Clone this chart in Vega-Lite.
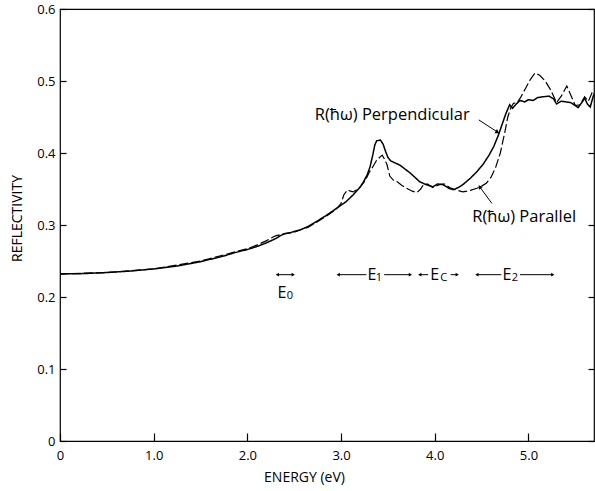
{
  "$schema": "https://vega.github.io/schema/vega-lite/v6.json",
  "width": 534,
  "height": 432,
  "autosize": "none",
  "padding": {"left": 60, "top": 9, "right": 1, "bottom": 50},
  "config": {
    "font": "Open Sans",
    "view": {"stroke": "#000", "strokeWidth": 1.2},
    "axis": {"grid": false, "domain": false, "tickColor": "#000", "labelColor": "#000", "titleColor": "#000", "labelFontWeight": "normal", "titleFontWeight": "normal"}
  },
  "datasets": {
    "curves": [
      {"E": 0, "R": 0.232, "s": "Perpendicular"},
      {"E": 0.25, "R": 0.2325, "s": "Perpendicular"},
      {"E": 0.5, "R": 0.234, "s": "Perpendicular"},
      {"E": 0.75, "R": 0.236, "s": "Perpendicular"},
      {"E": 1.0, "R": 0.239, "s": "Perpendicular"},
      {"E": 1.25, "R": 0.243, "s": "Perpendicular"},
      {"E": 1.5, "R": 0.249, "s": "Perpendicular"},
      {"E": 1.75, "R": 0.257, "s": "Perpendicular"},
      {"E": 1.85, "R": 0.261, "s": "Perpendicular"},
      {"E": 2.0, "R": 0.266, "s": "Perpendicular"},
      {"E": 2.1, "R": 0.27, "s": "Perpendicular"},
      {"E": 2.2, "R": 0.275, "s": "Perpendicular"},
      {"E": 2.3, "R": 0.281, "s": "Perpendicular"},
      {"E": 2.35, "R": 0.285, "s": "Perpendicular"},
      {"E": 2.4, "R": 0.288, "s": "Perpendicular"},
      {"E": 2.45, "R": 0.289, "s": "Perpendicular"},
      {"E": 2.5, "R": 0.291, "s": "Perpendicular"},
      {"E": 2.56, "R": 0.293, "s": "Perpendicular"},
      {"E": 2.65, "R": 0.298, "s": "Perpendicular"},
      {"E": 2.74, "R": 0.305, "s": "Perpendicular"},
      {"E": 2.85, "R": 0.314, "s": "Perpendicular"},
      {"E": 2.95, "R": 0.323, "s": "Perpendicular"},
      {"E": 3.05, "R": 0.332, "s": "Perpendicular"},
      {"E": 3.13, "R": 0.342, "s": "Perpendicular"},
      {"E": 3.2, "R": 0.352, "s": "Perpendicular"},
      {"E": 3.24, "R": 0.36, "s": "Perpendicular"},
      {"E": 3.28, "R": 0.37, "s": "Perpendicular"},
      {"E": 3.31, "R": 0.381, "s": "Perpendicular"},
      {"E": 3.34, "R": 0.398, "s": "Perpendicular"},
      {"E": 3.36, "R": 0.411, "s": "Perpendicular"},
      {"E": 3.38, "R": 0.417, "s": "Perpendicular"},
      {"E": 3.42, "R": 0.418, "s": "Perpendicular"},
      {"E": 3.45, "R": 0.412, "s": "Perpendicular"},
      {"E": 3.47, "R": 0.404, "s": "Perpendicular"},
      {"E": 3.5, "R": 0.394, "s": "Perpendicular"},
      {"E": 3.53, "R": 0.389, "s": "Perpendicular"},
      {"E": 3.58, "R": 0.386, "s": "Perpendicular"},
      {"E": 3.63, "R": 0.383, "s": "Perpendicular"},
      {"E": 3.68, "R": 0.378, "s": "Perpendicular"},
      {"E": 3.74, "R": 0.372, "s": "Perpendicular"},
      {"E": 3.79, "R": 0.366, "s": "Perpendicular"},
      {"E": 3.84, "R": 0.36, "s": "Perpendicular"},
      {"E": 3.91, "R": 0.356, "s": "Perpendicular"},
      {"E": 3.98, "R": 0.353, "s": "Perpendicular"},
      {"E": 4.03, "R": 0.357, "s": "Perpendicular"},
      {"E": 4.09, "R": 0.356, "s": "Perpendicular"},
      {"E": 4.15, "R": 0.351, "s": "Perpendicular"},
      {"E": 4.2, "R": 0.349, "s": "Perpendicular"},
      {"E": 4.25, "R": 0.352, "s": "Perpendicular"},
      {"E": 4.3, "R": 0.356, "s": "Perpendicular"},
      {"E": 4.38, "R": 0.365, "s": "Perpendicular"},
      {"E": 4.45, "R": 0.374, "s": "Perpendicular"},
      {"E": 4.52, "R": 0.385, "s": "Perpendicular"},
      {"E": 4.58, "R": 0.397, "s": "Perpendicular"},
      {"E": 4.63, "R": 0.409, "s": "Perpendicular"},
      {"E": 4.68, "R": 0.425, "s": "Perpendicular"},
      {"E": 4.72, "R": 0.44, "s": "Perpendicular"},
      {"E": 4.76, "R": 0.455, "s": "Perpendicular"},
      {"E": 4.8, "R": 0.467, "s": "Perpendicular"},
      {"E": 4.83, "R": 0.462, "s": "Perpendicular"},
      {"E": 4.87, "R": 0.468, "s": "Perpendicular"},
      {"E": 4.91, "R": 0.473, "s": "Perpendicular"},
      {"E": 4.96, "R": 0.471, "s": "Perpendicular"},
      {"E": 5.0, "R": 0.474, "s": "Perpendicular"},
      {"E": 5.05, "R": 0.473, "s": "Perpendicular"},
      {"E": 5.1, "R": 0.477, "s": "Perpendicular"},
      {"E": 5.15, "R": 0.478, "s": "Perpendicular"},
      {"E": 5.22, "R": 0.479, "s": "Perpendicular"},
      {"E": 5.27, "R": 0.475, "s": "Perpendicular"},
      {"E": 5.3, "R": 0.468, "s": "Perpendicular"},
      {"E": 5.35, "R": 0.472, "s": "Perpendicular"},
      {"E": 5.4, "R": 0.471, "s": "Perpendicular"},
      {"E": 5.45, "R": 0.47, "s": "Perpendicular"},
      {"E": 5.5, "R": 0.466, "s": "Perpendicular"},
      {"E": 5.53, "R": 0.463, "s": "Perpendicular"},
      {"E": 5.57, "R": 0.47, "s": "Perpendicular"},
      {"E": 5.6, "R": 0.476, "s": "Perpendicular"},
      {"E": 5.63, "R": 0.468, "s": "Perpendicular"},
      {"E": 5.66, "R": 0.464, "s": "Perpendicular"},
      {"E": 5.69, "R": 0.478, "s": "Perpendicular"},
      {"E": 5.72, "R": 0.488, "s": "Perpendicular"},
      {"E": 0, "R": 0.232, "s": "Parallel"},
      {"E": 0.5, "R": 0.234, "s": "Parallel"},
      {"E": 1.0, "R": 0.239, "s": "Parallel"},
      {"E": 1.5, "R": 0.25, "s": "Parallel"},
      {"E": 1.85, "R": 0.262, "s": "Parallel"},
      {"E": 2.0, "R": 0.267, "s": "Parallel"},
      {"E": 2.1, "R": 0.272, "s": "Parallel"},
      {"E": 2.2, "R": 0.278, "s": "Parallel"},
      {"E": 2.3, "R": 0.285, "s": "Parallel"},
      {"E": 2.4, "R": 0.288, "s": "Parallel"},
      {"E": 2.5, "R": 0.29, "s": "Parallel"},
      {"E": 2.56, "R": 0.293, "s": "Parallel"},
      {"E": 2.65, "R": 0.297, "s": "Parallel"},
      {"E": 2.74, "R": 0.304, "s": "Parallel"},
      {"E": 2.85, "R": 0.313, "s": "Parallel"},
      {"E": 2.95, "R": 0.322, "s": "Parallel"},
      {"E": 3.0, "R": 0.33, "s": "Parallel"},
      {"E": 3.03, "R": 0.342, "s": "Parallel"},
      {"E": 3.07, "R": 0.349, "s": "Parallel"},
      {"E": 3.1, "R": 0.347, "s": "Parallel"},
      {"E": 3.13, "R": 0.346, "s": "Parallel"},
      {"E": 3.2, "R": 0.352, "s": "Parallel"},
      {"E": 3.26, "R": 0.362, "s": "Parallel"},
      {"E": 3.3, "R": 0.373, "s": "Parallel"},
      {"E": 3.34, "R": 0.381, "s": "Parallel"},
      {"E": 3.38, "R": 0.39, "s": "Parallel"},
      {"E": 3.42, "R": 0.395, "s": "Parallel"},
      {"E": 3.44, "R": 0.397, "s": "Parallel"},
      {"E": 3.47, "R": 0.39, "s": "Parallel"},
      {"E": 3.49, "R": 0.384, "s": "Parallel"},
      {"E": 3.52, "R": 0.368, "s": "Parallel"},
      {"E": 3.56, "R": 0.362, "s": "Parallel"},
      {"E": 3.6, "R": 0.36, "s": "Parallel"},
      {"E": 3.65, "R": 0.355, "s": "Parallel"},
      {"E": 3.7, "R": 0.351, "s": "Parallel"},
      {"E": 3.76, "R": 0.347, "s": "Parallel"},
      {"E": 3.81, "R": 0.345, "s": "Parallel"},
      {"E": 3.85, "R": 0.35, "s": "Parallel"},
      {"E": 3.88, "R": 0.356, "s": "Parallel"},
      {"E": 3.92, "R": 0.357, "s": "Parallel"},
      {"E": 3.98, "R": 0.352, "s": "Parallel"},
      {"E": 4.05, "R": 0.356, "s": "Parallel"},
      {"E": 4.1, "R": 0.357, "s": "Parallel"},
      {"E": 4.16, "R": 0.352, "s": "Parallel"},
      {"E": 4.22, "R": 0.349, "s": "Parallel"},
      {"E": 4.3, "R": 0.346, "s": "Parallel"},
      {"E": 4.38, "R": 0.348, "s": "Parallel"},
      {"E": 4.45, "R": 0.351, "s": "Parallel"},
      {"E": 4.5, "R": 0.354, "s": "Parallel"},
      {"E": 4.55, "R": 0.358, "s": "Parallel"},
      {"E": 4.6, "R": 0.366, "s": "Parallel"},
      {"E": 4.65, "R": 0.38, "s": "Parallel"},
      {"E": 4.7, "R": 0.4, "s": "Parallel"},
      {"E": 4.75, "R": 0.43, "s": "Parallel"},
      {"E": 4.78, "R": 0.45, "s": "Parallel"},
      {"E": 4.81, "R": 0.462, "s": "Parallel"},
      {"E": 4.84, "R": 0.469, "s": "Parallel"},
      {"E": 4.88, "R": 0.47, "s": "Parallel"},
      {"E": 4.92, "R": 0.478, "s": "Parallel"},
      {"E": 4.97, "R": 0.49, "s": "Parallel"},
      {"E": 5.02, "R": 0.502, "s": "Parallel"},
      {"E": 5.07, "R": 0.511, "s": "Parallel"},
      {"E": 5.12, "R": 0.508, "s": "Parallel"},
      {"E": 5.18, "R": 0.5, "s": "Parallel"},
      {"E": 5.24, "R": 0.487, "s": "Parallel"},
      {"E": 5.3, "R": 0.47, "s": "Parallel"},
      {"E": 5.35, "R": 0.479, "s": "Parallel"},
      {"E": 5.41, "R": 0.493, "s": "Parallel"},
      {"E": 5.46, "R": 0.478, "s": "Parallel"},
      {"E": 5.5, "R": 0.466, "s": "Parallel"},
      {"E": 5.55, "R": 0.467, "s": "Parallel"},
      {"E": 5.6, "R": 0.478, "s": "Parallel"},
      {"E": 5.64, "R": 0.472, "s": "Parallel"},
      {"E": 5.68, "R": 0.484, "s": "Parallel"},
      {"E": 5.72, "R": 0.49, "s": "Parallel"}
    ],
    "notes": [
      {"E": 2.72, "R": 0.453, "t": "R(ħω) Perpendicular"},
      {"E": 4.40, "R": 0.311, "t": "R(ħω) Parallel"}
    ],
    "pointers": [
      {"E": 4.47, "R": 0.446, "E2": 4.67, "R2": 0.429},
      {"E": 4.61, "R": 0.33, "E2": 4.48, "R2": 0.353}
    ],
    "spans": [
      {"E": 2.32, "E2": 2.49, "R": 0.231},
      {"E": 2.97, "E2": 3.27, "R": 0.231},
      {"E": 3.46, "E2": 3.74, "R": 0.231},
      {"E": 3.84, "E2": 3.93, "R": 0.231},
      {"E": 4.17, "E2": 4.24, "R": 0.231},
      {"E": 4.45, "E2": 4.71, "R": 0.231},
      {"E": 4.91, "E2": 5.26, "R": 0.231}
    ],
    "heads": [
      {"E": 2.32, "R": 0.231, "d": "left"},
      {"E": 2.49, "R": 0.231, "d": "right"},
      {"E": 2.97, "R": 0.231, "d": "left"},
      {"E": 3.74, "R": 0.231, "d": "right"},
      {"E": 3.84, "R": 0.231, "d": "left"},
      {"E": 4.24, "R": 0.231, "d": "right"},
      {"E": 4.45, "R": 0.231, "d": "left"},
      {"E": 5.26, "R": 0.231, "d": "right"}
    ],
    "bands": [
      {"E": 2.37, "R": 0.205, "t": "E"},
      {"E": 3.33, "R": 0.231, "t": "E"},
      {"E": 4.00, "R": 0.231, "t": "E"},
      {"E": 4.77, "R": 0.231, "t": "E"}
    ],
    "subs": [
      {"E": 2.455, "R": 0.201, "t": "0"},
      {"E": 3.405, "R": 0.226, "t": "1"},
      {"E": 4.095, "R": 0.226, "t": "C"},
      {"E": 4.855, "R": 0.226, "t": "2"}
    ]
  },
  "resolve": {"axis": {"y": "independent"}},
  "layer": [
    {
      "data": {"name": "curves"},
      "mark": {"type": "line", "color": "#000", "clip": true, "interpolate": "linear"},
      "encoding": {
        "x": {"field": "E", "type": "quantitative", "title": "ENERGY (eV)",
          "scale": {"domain": [0, 5.7], "nice": false},
          "axis": {"values": [0, 1, 2, 3, 4, 5], "labelExpr": "datum.value == 0 ? '0' : format(datum.value, '.1f')", "tickSize": -8, "tickWidth": 1.2, "labelFontSize": 13, "labelPadding": 16, "titleFontSize": 14, "titlePadding": 8, "titleX": 244, "titleAnchor": "middle", "labelFlush": false}},
        "y": {"field": "R", "type": "quantitative", "title": "REFLECTIVITY",
          "scale": {"domain": [0, 0.6], "nice": false, "zero": false},
          "axis": {"orient": "left", "values": [0, 0.1, 0.2, 0.3, 0.4, 0.5, 0.6], "labelExpr": "datum.value == 0 ? '0' : format(datum.value, '.1f')", "tickSize": -6, "tickWidth": 1.2, "labelFontSize": 13, "labelPadding": 11, "titleFontSize": 14, "titleX": -43, "titleY": 209, "titleAngle": -90, "titleAlign": "center", "titleBaseline": "middle", "labelFlush": false}},
        "detail": {"field": "s"},
        "strokeDash": {"field": "s", "type": "nominal", "legend": null,
          "scale": {"domain": ["Perpendicular", "Parallel"], "range": [[1, 0], [9, 3]]}},
        "strokeWidth": {"field": "s", "type": "nominal", "legend": null,
          "scale": {"domain": ["Perpendicular", "Parallel"], "range": [1.5, 1.2]}}
      }
    },
    {
      "data": {"name": "notes"},
      "mark": {"type": "text", "align": "left", "baseline": "middle", "fontSize": 16.5, "color": "#000"},
      "encoding": {
        "x": {"field": "E", "type": "quantitative", "title": "ENERGY (eV)"},
        "y": {"field": "R", "type": "quantitative", "title": "REFLECTIVITY",
          "axis": {"orient": "right", "values": [0, 0.1, 0.2, 0.3, 0.4, 0.5, 0.6], "labels": false, "title": null, "tickSize": -6, "tickWidth": 1.2}},
        "text": {"field": "t"}
      }
    },
    {
      "data": {"name": "pointers"},
      "mark": {"type": "rule", "color": "#000", "strokeWidth": 1},
      "encoding": {
        "x": {"field": "E", "type": "quantitative", "title": "ENERGY (eV)"},
        "y": {"field": "R", "type": "quantitative", "axis": null},
        "x2": {"field": "E2"},
        "y2": {"field": "R2"}
      }
    },
    {
      "data": {"values": [{"E": 4.67, "R": 0.429}]},
      "mark": {"type": "point", "shape": "triangle-up", "angle": 120, "filled": true, "color": "#000", "size": 22, "opacity": 1},
      "encoding": {
        "x": {"field": "E", "type": "quantitative", "title": "ENERGY (eV)"},
        "y": {"field": "R", "type": "quantitative", "axis": null}
      }
    },
    {
      "data": {"values": [{"E": 4.48, "R": 0.353}]},
      "mark": {"type": "point", "shape": "triangle-up", "angle": 323, "filled": true, "color": "#000", "size": 22, "opacity": 1},
      "encoding": {
        "x": {"field": "E", "type": "quantitative", "title": "ENERGY (eV)"},
        "y": {"field": "R", "type": "quantitative", "axis": null}
      }
    },
    {
      "data": {"name": "spans"},
      "mark": {"type": "rule", "color": "#000", "strokeWidth": 1},
      "encoding": {
        "x": {"field": "E", "type": "quantitative", "title": "ENERGY (eV)"},
        "x2": {"field": "E2"},
        "y": {"field": "R", "type": "quantitative", "axis": null}
      }
    },
    {
      "data": {"name": "heads"},
      "mark": {"type": "point", "filled": true, "color": "#000", "size": 14, "opacity": 1},
      "encoding": {
        "x": {"field": "E", "type": "quantitative", "title": "ENERGY (eV)"},
        "y": {"field": "R", "type": "quantitative", "axis": null},
        "shape": {"field": "d", "type": "nominal", "legend": null,
          "scale": {"domain": ["left", "right"], "range": ["triangle-left", "triangle-right"]}}
      }
    },
    {
      "data": {"name": "bands"},
      "mark": {"type": "text", "align": "center", "baseline": "middle", "fontSize": 16, "color": "#000"},
      "encoding": {
        "x": {"field": "E", "type": "quantitative", "title": "ENERGY (eV)"},
        "y": {"field": "R", "type": "quantitative", "axis": null},
        "text": {"field": "t"}
      }
    },
    {
      "data": {"name": "subs"},
      "mark": {"type": "text", "align": "center", "baseline": "middle", "fontSize": 11, "color": "#000"},
      "encoding": {
        "x": {"field": "E", "type": "quantitative", "title": "ENERGY (eV)"},
        "y": {"field": "R", "type": "quantitative", "axis": null},
        "text": {"field": "t"}
      }
    }
  ]
}
